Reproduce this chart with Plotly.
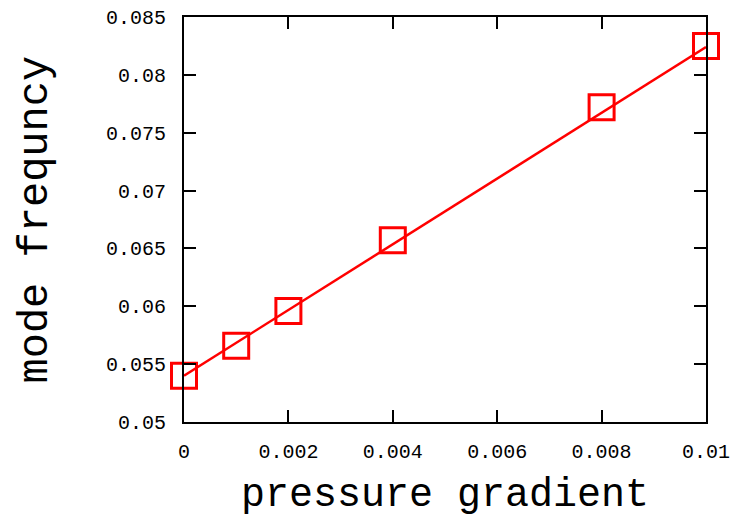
import plotly.graph_objects as go

# data
pressure_gradient = [0.0, 0.001, 0.002, 0.004, 0.008, 0.01]
mode_frequency = [0.0540, 0.0566, 0.0596, 0.0657, 0.0772, 0.0825]
fit_x = [0.0, 0.01]
fit_y = [0.0540, 0.0824]

x_tickvals = [0, 0.002, 0.004, 0.006, 0.008, 0.01]
x_ticktext = ["0", "0.002", "0.004", "0.006", "0.008", "0.01"]
y_tickvals = [0.05, 0.055, 0.06, 0.065, 0.07, 0.075, 0.08, 0.085]
y_ticktext = ["0.05", "0.055", "0.06", "0.065", "0.07", "0.075", "0.08", "0.085"]
x_title = "pressure gradient"
y_title = "mode frequncy"

FONT = "Courier New, Liberation Mono, monospace"
RED = "#ff0000"

fig = go.Figure()
fig.add_trace(go.Scatter(
    x=fit_x, y=fit_y, mode="lines",
    line=dict(color=RED, width=2.5),
    showlegend=False, cliponaxis=False,
))
fig.add_trace(go.Scatter(
    x=pressure_gradient, y=mode_frequency, mode="markers",
    marker=dict(symbol="square-open", size=25, color=RED,
                line=dict(color=RED, width=3)),
    showlegend=False, cliponaxis=False,
))

axis_common = dict(
    showgrid=False, zeroline=False, automargin=False,
    showline=True, linecolor="black", linewidth=2,
    mirror="allticks", ticks="inside", ticklen=12, tickwidth=2,
    tickcolor="black",
    tickfont=dict(family=FONT, size=20, color="black"),
)

fig.update_layout(
    width=735, height=519,
    margin=dict(l=184, r=29, t=17, b=97),
    plot_bgcolor="white", paper_bgcolor="white",
    xaxis=dict(
        range=[0, 0.01], tickvals=x_tickvals, ticktext=x_ticktext,
        ticklabelstandoff=10,
        **axis_common,
    ),
    yaxis=dict(
        range=[0.05, 0.085], tickvals=y_tickvals, ticktext=y_ticktext,
        ticklabelstandoff=12,
        **axis_common,
    ),
    annotations=[
        dict(text=x_title, xref="paper", yref="paper", x=0.5, y=-73 / 405,
             xanchor="center", yanchor="middle", showarrow=False,
             font=dict(family=FONT, size=40, color="black")),
        dict(text=y_title, xref="paper", yref="paper", x=-149 / 522, y=0.5,
             xanchor="center", yanchor="middle", textangle=-90, showarrow=False,
             font=dict(family=FONT, size=42, color="black")),
    ],
)

fig.write_html("out.html", config={"displayModeBar": False},
               post_script="document.body.style.margin='0';")
